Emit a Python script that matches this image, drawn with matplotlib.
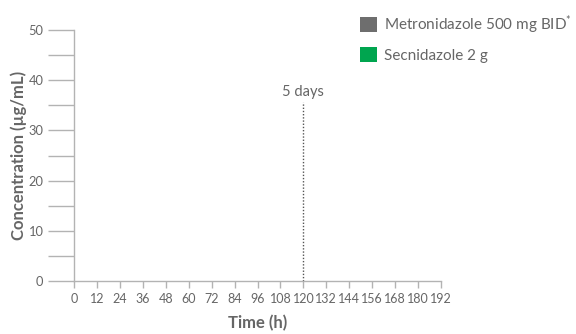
import matplotlib
matplotlib.use("Agg")
import matplotlib.pyplot as plt
from matplotlib.patches import Patch

plt.rcParams['font.family'] = ['Lato', 'DejaVu Sans']
plt.rcParams['mathtext.fontset'] = 'custom'
plt.rcParams['mathtext.rm'] = 'Lato'
plt.rcParams['mathtext.it'] = 'Lato'

# Axis ranges and ticks
x_ticks = list(range(0, 193, 12))
y_major = [0, 10, 20, 30, 40, 50]
y_minor = [5, 15, 25, 35, 45]

# Treatment series (legend)
series_names = ["Metronidazole 500 mg BID$^{*}$", "Secnidazole 2 g"]
series_colors = ["#6e6e6e", "#00a54f"]

# Marker for end of 5-day course
course_end_h = 120
course_label = "5 days"
course_line_top = 35.7

text_col = "#666666"
axis_col = "#b3b3b3"

fig = plt.figure(figsize=(5.76, 3.34), dpi=100)
ax = fig.add_axes([74/576, 53/334, 367/576, 251/334])

ax.set_xlim(0, 192)
ax.set_ylim(0, 50)

for s in ['top', 'right']:
    ax.spines[s].set_visible(False)
ax.spines['left'].set_color(axis_col)
ax.spines['bottom'].set_color(axis_col)
ax.spines['left'].set_linewidth(1.0)
ax.spines['bottom'].set_linewidth(1.0)

ax.set_xticks(x_ticks)
ax.set_xticklabels([str(t) for t in x_ticks])
ax.set_yticks(y_major)
ax.set_yticks(y_minor, minor=True)

ax.tick_params(axis='y', which='both', direction='out', length=19, width=1.0,
               color=axis_col, labelcolor=text_col, labelsize=9.3, pad=3)
ax.tick_params(axis='x', which='major', direction='out', length=5, width=1.0,
               color=axis_col, labelcolor=text_col, labelsize=9, pad=3.5)

ax.set_xlabel("Time (h)", fontsize=12, color=text_col, fontweight='bold', labelpad=7)
ax.set_ylabel("Concentration (µg/mL)", fontsize=12, color=text_col, fontweight='bold', labelpad=1)

# 5-day marker
ax.plot([course_end_h, course_end_h], [0, course_line_top], linestyle=(0, (1, 1.3)),
        color="#555555", linewidth=1.0)
ax.text(course_end_h, course_line_top + 0.6, course_label, ha='center', va='bottom',
        fontsize=10.5, color=text_col)

handles = [Patch(facecolor=c, edgecolor='none', label=n) for n, c in zip(series_names, series_colors)]
leg = fig.legend(handles=handles, loc='upper left', bbox_to_anchor=(357/576, 1 - 10/334),
                 frameon=False, handlelength=1.1, handleheight=1.1, handletextpad=0.45,
                 labelspacing=0.75, borderaxespad=0, borderpad=0.2,
                 prop={'family': ['Lato', 'DejaVu Sans'], 'size': 11})
for t in leg.get_texts():
    t.set_color(text_col)

fig.savefig("out.png", dpi=100)
